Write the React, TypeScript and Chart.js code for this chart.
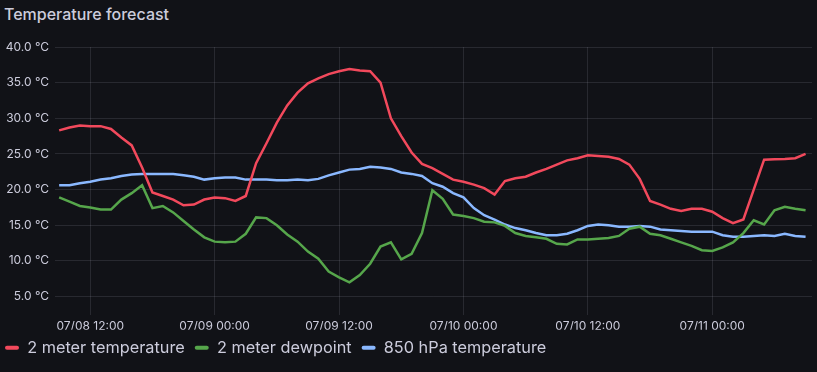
import React, { useEffect, useRef } from "react";
import { Chart, registerables } from "chart.js";

Chart.register(...registerables);

const title = "Temperature forecast";
const seriesNames = ["2 meter temperature", "2 meter dewpoint", "850 hPa temperature"];
const seriesColors = ["#F2495C", "#56A64B", "#8AB8FF"];

// hours since 07/08 00:00 of the first sample (hourly samples)
const firstHour = 9;

const temp2m = [
  28.3, 28.7, 29.0, 28.9, 28.9, 28.5, 27.3, 26.2, 23.1, 19.6, 19.1, 18.6, 17.8, 17.9, 18.6,
  18.9, 18.8, 18.4, 19.1, 23.7, 26.5, 29.4, 31.8, 33.6, 34.9, 35.6, 36.2, 36.6, 36.9, 36.7,
  36.6, 35.0, 30.0, 27.5, 25.2, 23.6, 23.0, 22.2, 21.4, 21.1, 20.7, 20.2, 19.3, 21.2, 21.6,
  21.8, 22.4, 22.9, 23.5, 24.1, 24.4, 24.8, 24.7, 24.6, 24.3, 23.5, 21.5, 18.4, 17.9, 17.3,
  17.0, 17.3, 17.3, 16.9, 16.0, 15.3, 15.8, 20.0, 24.2, 24.25, 24.3, 24.4, 25.0,
];

const dew2m = [
  18.9, 18.3, 17.7, 17.5, 17.2, 17.2, 18.6, 19.5, 20.6, 17.4, 17.7, 16.8, 15.6, 14.4, 13.3,
  12.7, 12.6, 12.7, 13.8, 16.1, 16.0, 15.0, 13.7, 12.7, 11.3, 10.3, 8.5, 7.7, 7.0, 8.0,
  9.6, 12.0, 12.6, 10.2, 11.0, 13.9, 19.9, 18.7, 16.5, 16.3, 16.0, 15.5, 15.4, 14.9, 13.9,
  13.5, 13.3, 13.1, 12.4, 12.3, 13.0, 13.0, 13.1, 13.2, 13.5, 14.5, 14.8, 13.8, 13.6, 13.1,
  12.6, 12.1, 11.5, 11.4, 11.9, 12.6, 13.9, 15.7, 15.1, 17.1, 17.6, 17.3, 17.1,
];

const temp850 = [
  20.6, 20.6, 20.9, 21.1, 21.4, 21.6, 21.9, 22.1, 22.2, 22.2, 22.2, 22.2, 22.0, 21.8, 21.4,
  21.6, 21.7, 21.7, 21.4, 21.4, 21.4, 21.3, 21.3, 21.4, 21.3, 21.5, 22.0, 22.4, 22.8, 22.9,
  23.2, 23.1, 22.9, 22.4, 22.2, 21.9, 20.9, 20.4, 19.5, 18.9, 17.4, 16.4, 15.8, 15.1, 14.6,
  14.3, 13.9, 13.6, 13.6, 13.8, 14.3, 14.9, 15.1, 15.0, 14.8, 14.8, 14.9, 14.8, 14.4, 14.3,
  14.2, 14.1, 14.1, 14.1, 13.6, 13.4, 13.4, 13.5, 13.6, 13.5, 13.8, 13.5, 13.4,
];

const xTickHours = [12, 24, 36, 48, 60, 72];
const xTickLabels = ["07/08 12:00", "07/09 00:00", "07/09 12:00", "07/10 00:00", "07/10 12:00", "07/11 00:00"];
const yTickValues = [5, 10, 15, 20, 25, 30, 35, 40];

const BG = "#111217";
const TEXT = "rgb(204, 204, 220)";
const GRID = "rgba(204, 204, 220, 0.13)";

export default function App() {
  const ref = useRef<HTMLCanvasElement | null>(null);

  useEffect(() => {
    const canvas = ref.current;
    if (!canvas) return;
    const allSeries = [temp2m, dew2m, temp850];
    const chart = new Chart(canvas, {
      type: "line",
      data: {
        datasets: allSeries.map((vals, si) => ({
          label: seriesNames[si],
          data: vals.map((v, i) => ({ x: firstHour + i, y: v })),
          borderColor: seriesColors[si],
          backgroundColor: seriesColors[si],
          borderWidth: 2.5,
          pointRadius: 0,
          tension: 0,
          fill: false,
        })),
      },
      options: {
        animation: false,
        responsive: false,
        devicePixelRatio: 1,
        layout: { padding: { top: 47, right: 5, left: 0, bottom: 0 } },
        plugins: {
          tooltip: { enabled: false },
          legend: {
            position: "bottom",
            align: "start",
            labels: {
              color: TEXT,
              font: { family: "Inter", size: 16.3 },
              boxWidth: 14,
              boxHeight: 4,
              padding: 10,
              useBorderRadius: true,
              borderRadius: 2,
              generateLabels: (c: any) =>
                Chart.defaults.plugins.legend.labels.generateLabels(c).map((l: any) => ({
                  ...l,
                  lineWidth: 0,
                  borderRadius: 2,
                })),
            },
          },
        },
        scales: {
          x: {
            type: "linear",
            min: 8.6,
            max: 81.62,
            border: { display: false },
            grid: { color: GRID, drawTicks: false, lineWidth: 1 },
            afterBuildTicks: (s: any) => {
              s.ticks = xTickHours.map((v) => ({ value: v }));
            },
            afterFit: (s: any) => {
              s.height = 15;
            },
            ticks: {
              color: TEXT,
              font: { family: "Inter", size: 12 },
              padding: 4,
              maxRotation: 0,
              autoSkip: false,
              callback: (v: any) => {
                const i = xTickHours.indexOf(Number(v));
                return i >= 0 ? xTickLabels[i] : "";
              },
            },
          },
          y: {
            type: "linear",
            min: 2.45,
            max: 40,
            border: { display: false },
            grid: { color: GRID, drawTicks: false, lineWidth: 1 },
            afterBuildTicks: (s: any) => {
              s.ticks = yTickValues.map((v) => ({ value: v }));
            },
            afterFit: (s: any) => {
              s.width = 60;
            },
            ticks: {
              color: TEXT,
              font: { family: "Inter", size: 12 },
              padding: 6,
              callback: (v: any) => Number(v).toFixed(1) + " °C",
            },
          },
        },
      },
    });
    return () => chart.destroy();
  }, []);

  return (
    <div
      style={{
        position: "fixed",
        left: 0,
        top: 0,
        width: 817,
        height: 372,
        background: BG,
        overflow: "hidden",
      }}
    >
      <div
        style={{
          position: "absolute",
          left: 4,
          top: 6,
          fontFamily: "Inter",
          fontWeight: 500,
          fontSize: 16,
          lineHeight: "16px",
          color: TEXT,
          whiteSpace: "nowrap",
        }}
      >
        {title}
      </div>
      <canvas
        ref={ref}
        width={822}
        height={366}
        style={{ position: "absolute", left: -5, top: 0, width: 822, height: 366 }}
      />
    </div>
  );
}
